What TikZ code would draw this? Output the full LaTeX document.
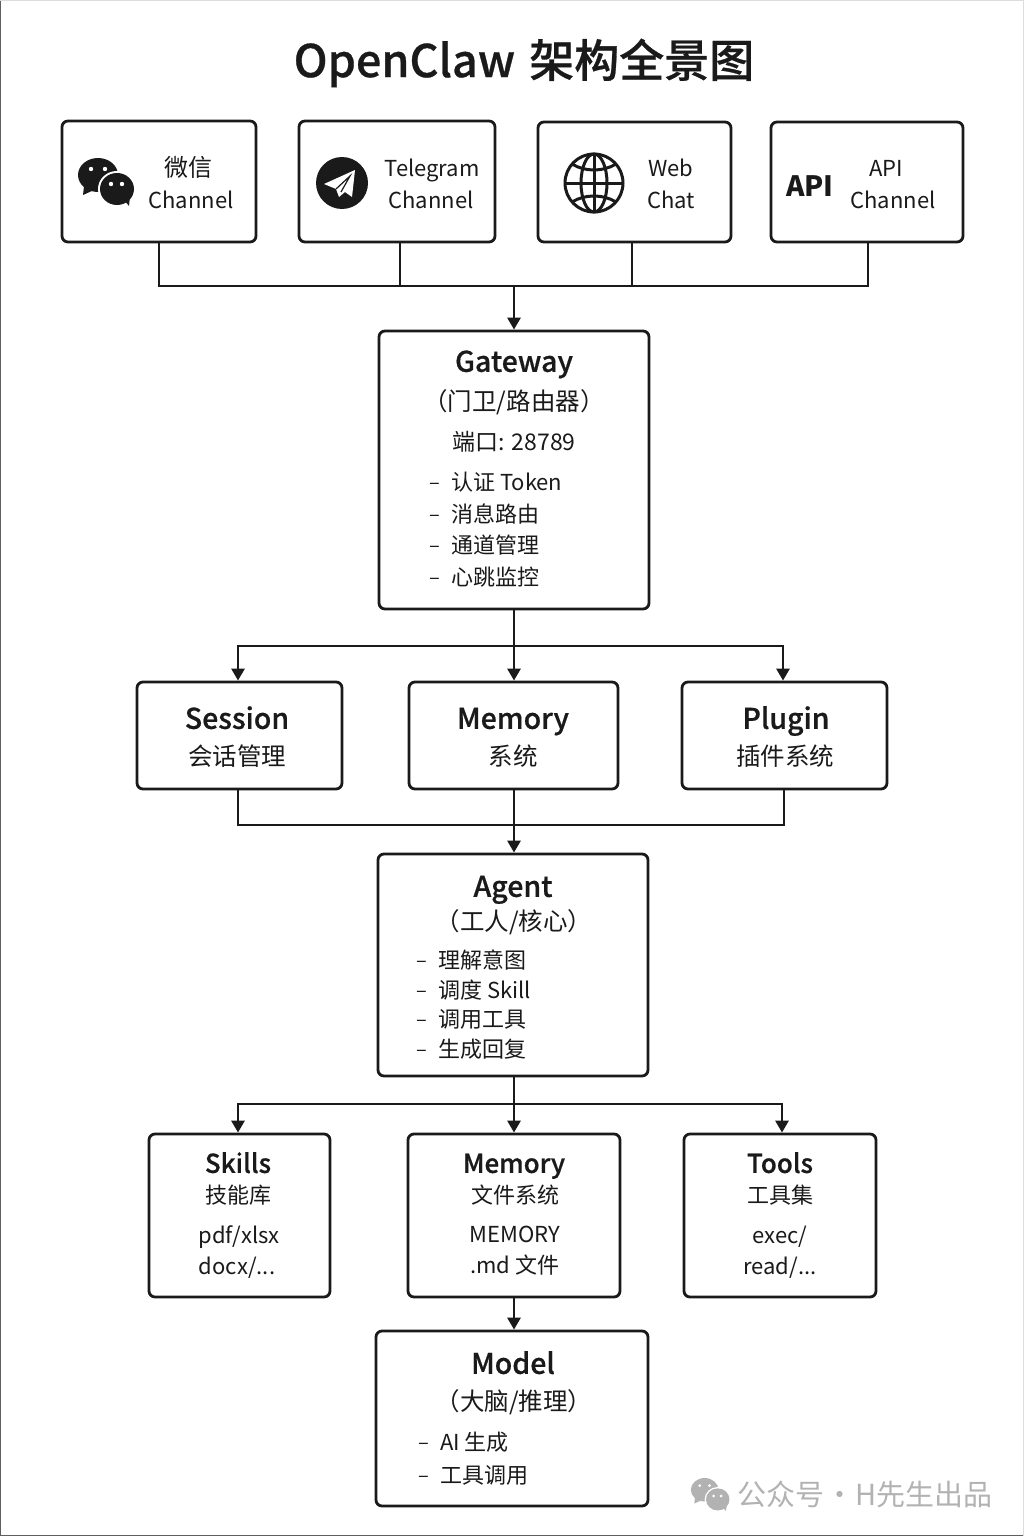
\documentclass[tikz,border=0pt]{standalone}
\usepackage{fontspec}
\setmainfont{Noto Sans CJK SC}
\newfontfamily\medfont{Noto Sans CJK SC Medium}[FakeBold=0.6]
\usetikzlibrary{arrows.meta}

\tikzset{
    % boxes and connectors
    mybox/.style={draw=myink, line width=2.8pt, rounded corners=6pt, fill=white, inner sep=0pt},
    myline/.style={draw=myink, line width=2.8pt},
    myarrow/.style={myline, -{Triangle[length=12pt,width=13pt]}},
    % texts: the size in one place, so that all of them centre alike
    mysize/.style={font=\fontsize{#1}{#1}\selectfont, text height=.88*#1pt, text depth=.12*#1pt},
    mylabel/.style={text=myink, inner sep=0pt},
    mytitle/.style={mylabel, mysize=45, font=\fontsize{45}{50}\selectfont\medfont},
    myhead/.style={mylabel, mysize=28.5, font=\fontsize{28.5}{32}\selectfont\medfont},
    mysmallhead/.style={mylabel, mysize=26, font=\fontsize{26}{30}\selectfont\medfont},
    mysub/.style={mylabel, mysize=24.5},
    mytext/.style={mylabel, mysize=22},
    myitem/.style={mytext, anchor=west},
    mydash/.style={mylabel, mysize=20},
    mymark/.style={mylabel, mysize=29, text=mygrey},
    % the two bubbles, also used small in the corner
    wxicon/.pic={
        \fill [pic actions] (98,175) ellipse [x radius=20, y radius=17];
        \fill [pic actions] (84,186) -- (83,195) -- (94,190) -- cycle;
        \fill [white] (117,189) ellipse [x radius=19, y radius=18];
        \fill [pic actions] (117,189) ellipse [x radius=17, y radius=16];
        \fill [pic actions] (124,200) -- (129,206) -- (130,196) -- cycle;
        \foreach \x/\y/\r in {91/169/2.2, 105/169/2.2, 111/184/2.2, 122/184/2.2}
            \fill [white] (\x,\y) circle [radius=\r];
    }
}
\definecolor{myink}{HTML}{1A1A1A}
\definecolor{mygrey}{HTML}{B2B2B2}

\begin{document}
\begin{tikzpicture}[x=1pt, y=-1pt]
    \useasboundingbox (0,0) rectangle (1024,1536);
    % ===== page edge =====
    \draw [line width=2pt, myink!70] (0,0) -- (0,1536) -- (1024,1536);
    \draw [line width=2pt, myink!15] (0,0) -- (1024,0) -- (1024,1536);
    \node [mytitle] (title) at (524,60) {OpenClaw\kern4pt{} 架构全景图};

    % ===== boxes =====
    \foreach \name/\x/\y/\w/\h in {
        wechat/159/181.5/194/121, telegram/397/181.5/196/121,
        web/634.5/182/193/120, api/867/182/192/120,
        gateway/514/470/270/278,
        session/239.5/735.5/205/107, memory/513.5/735.5/209/107, plugin/784.5/735.5/205/107,
        agent/513/965/270/222,
        skills/239.5/1215.5/181/163, memfile/514/1215.5/212/163, tools/780/1215.5/192/163,
        model/512/1418.5/272/175} {
        \node [mybox, minimum width=\w pt, minimum height=\h pt] (\name) at (\x,\y) {};
    }

    % ===== channels =====
    \pic [fill=myink] (wxbig) at (0,0) {wxicon};
    \fill [myink] (342,183) circle [radius=26];
    \fill [white] (355,170) -- (324,184) -- (336,189) -- (339,197) -- (345,192) -- (352,197) -- cycle;
    \draw [myink, line width=1.2pt] (336,189) -- (350,176) -- (341,192);
    \begin{scope}[myline, line width=3pt]
        \draw (594,183) circle [radius=29];
        \draw (594,183) ellipse [x radius=13, y radius=29];
        \draw (594,154) -- (594,212);
        \draw (565,183) -- (623,183);
        \draw (572,164) .. controls (585,172) and (603,172) .. (616,164);
        \draw (572,202) .. controls (585,194) and (603,194) .. (616,202);
    \end{scope}
    \node [mylabel, mysize=28, font=\fontsize{28}{34}\selectfont\bfseries] (apilogo) at (810,186) {API};
    \node [mylabel, mysize=24] (wxa) at (188,167) {微信};
    \foreach \name/\txt/\x/\y in {
        wxb/Channel/191/200,
        tga/Telegram/432/168, tgb/Channel/431/200,
        wba/Web/671/168, wbb/Chat/671/200,
        apa/API/886/168, apb/Channel/893/200} {
        \node [mytext] (\name) at (\x,\y) {\txt};
    }

    % ===== heads and lines in the boxes =====
    \foreach \name/\txt/\x/\y in {
        gwa/Gateway/514/361, sea/Session/237/718, mea/Memory/513/718, pla/Plugin/786/718,
        aga/Agent/513/886, moa/Model/513/1363} {
        \node [myhead] (\name) at (\x,\y) {\txt};
    }
    \foreach \name/\txt/\x/\y in {
        gwb/{（门卫/路由器）}/514/401, seb/会话管理/237/756, meb/系统/513/756, plb/插件系统/785/756,
        agb/{（工人/核心）}/514/921, mob/{（大脑/推理）}/514/1401} {
        \node [mysub] (\name) at (\x,\y) {\txt};
    }
    \node [mylabel, mysize=23] (gwc) at (514,442) {端口: 28789};
    \foreach \name/\txt/\x/\y in {
        ska/Skills/238/1163, mfa/Memory/514/1163, toa/Tools/780/1163} {
        \node [mysmallhead] (\name) at (\x,\y) {\txt};
    }
    \foreach \name/\txt/\x/\y in {
        skb/技能库/238/1195, skc/{pdf/xlsx}/239/1235, skd/{docx/...}/237/1266,
        mfb/文件系统/515/1195, mfc/MEMORY/515/1234, mfd/.md 文件/515/1265,
        tob/工具集/780/1195, toc/{exec/}/780/1235, tod/{read/...}/780/1266} {
        \node [mytext] (\name) at (\x,\y) {\txt};
    }

    % ===== lists =====
    \foreach \name/\txt/\x/\y in {
        gwd/认证 Token/451/482, gwe/消息路由/451/514, gwf/通道管理/451/545, gwg/心跳监控/451/577,
        agc/理解意图/438/960, agd/调度 Skill/438/990, age/调用工具/438/1019, agf/生成回复/438/1049,
        moc/AI 生成/440/1442, mod/工具调用/440/1475} {
        \node [myitem] (\name) at (\x,\y) {\txt};
        \node [mydash, left=11pt] (dash\name) at (\name.west) {\textendash};
    }

    % ===== connectors =====
    \coordinate (busin) at (514,286);
    \coordinate (busgw) at (514,646);
    \coordinate (busme) at (514,825);
    \coordinate (busag) at (514,1104);
    \draw [myline] (wechat.south) |- (busin);
    \draw [myline] ([xshift=3pt]telegram.south) |- (busin);
    \draw [myline] ([xshift=-2.5pt]web.south) |- (busin);
    \draw [myline] ([xshift=1pt]api.south) |- (busin);
    \draw [myarrow] (busin) -- (gateway.north);
    \draw [myarrow] (gateway.south) -- (memory.north -| gateway.south);
    \draw [myarrow] (busgw) -| ([xshift=-1.5pt]session.north);
    \draw [myarrow] (busgw) -| ([xshift=-1.5pt]plugin.north);
    \draw [myline] ([xshift=-1.5pt]session.south) |- (busme);
    \draw [myline] ([xshift=-0.5pt]plugin.south) |- (busme);
    \draw [myarrow] (memory.south -| busme) -- (agent.north -| busme);
    \draw [myarrow] (agent.south -| busag) -- (memfile.north);
    \draw [myarrow] (busag) -| ([xshift=-1.5pt]skills.north);
    \draw [myarrow] (busag) -| ([xshift=2pt]tools.north);
    \draw [myarrow] (memfile.south) -- (model.north -| memfile.south);

    % ===== corner mark =====
    \pic [fill=mygrey, scale=0.69, transform shape] (wxsmall) at (637,1369) {wxicon};
    \node [mymark, anchor=west] (mark) at (737,1494) {公众号\kern1pt·\kern1pt H先生出品};
\end{tikzpicture}
\end{document}
